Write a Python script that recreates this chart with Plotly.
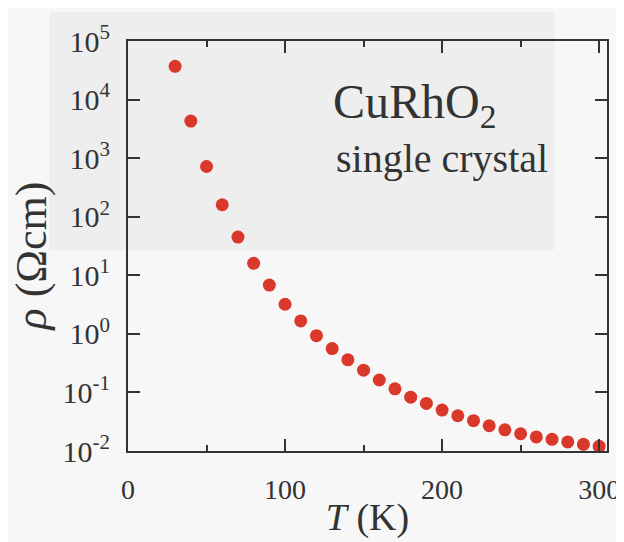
import plotly.graph_objects as go

# Data
T = [30, 40, 50, 60, 70, 80, 90, 100, 110, 120, 130, 140, 150, 160, 170,
     180, 190, 200, 210, 220, 230, 240, 250, 260, 270, 280, 290, 300]
rho = [3.7e4, 4.3e3, 7.2e2, 1.6e2, 45, 16, 6.8, 3.2, 1.66, 0.93, 0.56, 0.36,
       0.24, 0.163, 0.115, 0.083, 0.065, 0.050, 0.040, 0.033, 0.027, 0.023,
       0.0197, 0.0174, 0.0158, 0.0143, 0.0130, 0.0120]

y_tickvals = [1e-2, 1e-1, 1e0, 1e1, 1e2, 1e3, 1e4, 1e5]
y_ticktext = ["10<sup>-2</sup>", "10<sup>-1</sup>", "10<sup>0</sup>", "10<sup>1</sup>",
              "10<sup>2</sup>", "10<sup>3</sup>", "10<sup>4</sup>", "10<sup>5</sup>"]
x_tickvals = [0, 100, 200, 300]
x_ticktext = ["0", "100", "200", "300"]

FONT = "Liberation Serif, Times New Roman, serif"
INK = "#333333"

fig = go.Figure()
fig.add_trace(go.Scatter(
    x=T, y=rho, mode="markers",
    marker=dict(color="#d9382a", size=13, line=dict(width=0)),
    showlegend=False, cliponaxis=False,
))

fig.add_annotation(x=0.424, y=0.845, xref="paper", yref="paper", xanchor="left",
                   yanchor="middle", showarrow=False,
                   text="CuRhO<sub>2</sub>", font=dict(family=FONT, size=48, color=INK))
fig.add_annotation(x=0.43, y=0.714, xref="paper", yref="paper", xanchor="left",
                   yanchor="middle", showarrow=False,
                   text="single crystal", font=dict(family=FONT, size=40, color=INK))

# y-axis title placed as rotated text
fig.add_annotation(x=-0.202, y=0.475, xref="paper", yref="paper", xanchor="center",
                   yanchor="middle", showarrow=False, textangle=-90,
                   text="<i>ρ</i> (Ωcm)", font=dict(family=FONT, size=44, color=INK))

# faint grey scan patch behind upper part
fig.add_shape(type="rect", xref="paper", yref="paper", layer="below",
              x0=-0.164, x1=0.89, y0=0.49, y1=1.07,
              fillcolor="#eeeeee", line=dict(width=0))

axis_common = dict(
    showline=True, linecolor=INK, linewidth=2, mirror="allticks",
    ticks="inside", tickcolor=INK, tickwidth=2, ticklen=12,
    showgrid=False, zeroline=False,
)

fig.update_xaxes(
    range=[0, 305], tickvals=x_tickvals, ticktext=x_ticktext,
    minor=dict(ticks="inside", tickvals=[50, 150, 250], ticklen=6,
               tickwidth=2, tickcolor=INK),
    title=dict(text="<i>T</i> (K)", font=dict(family=FONT, size=38, color=INK),
               standoff=0),
    tickfont=dict(family=FONT, size=28, color=INK),
    ticklabelstandoff=12,
    **axis_common,
)
fig.update_yaxes(
    type="log", range=[-2, 5], tickvals=y_tickvals, ticktext=y_ticktext,
    tickfont=dict(family=FONT, size=30, color=INK),
    ticklabelstandoff=10,
    **axis_common,
)

fig.update_layout(
    width=624, height=542,
    margin=dict(l=120, r=16, t=28, b=99),
    paper_bgcolor="#f7f7f7", plot_bgcolor="rgba(0,0,0,0)",
    font=dict(family=FONT, color=INK),
)

fig.write_html("out.html")
